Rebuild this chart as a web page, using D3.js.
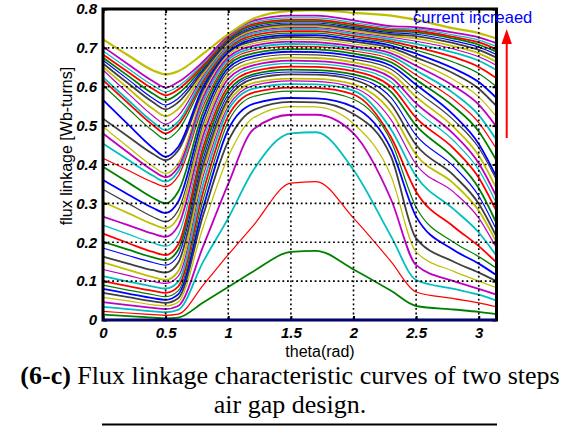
<!DOCTYPE html>
<html><head><meta charset="utf-8">
<script src="https://cdn.jsdelivr.net/npm/d3@7/dist/d3.min.js"></script>
<style>body{margin:0;background:#fff}svg{display:block}</style>
</head><body>
<svg id="c" width="578" height="426"></svg>
<script>
// rotor position samples (rad)
const theta = [0, 0.2, 0.4, 0.5, 0.6, 0.8, 1.0, 1.2, 1.5, 1.7, 2.0, 2.3, 2.5, 2.8, 3.0, 3.1416];
// flux linkage [Wb-turns], one array per current step (low -> high)
const c00 = [0,0,0,0,0,0,0,0,0,0,0,0,0,0,0,0];
const c01 = [.014,.010,.006,.004,.006,.045,.085,.125,.175,.178,.130,.075,.036,.027,.021,.015];
const c02 = [.022,.018,.014,.012,.015,.090,.168,.243,.352,.356,.262,.150,.072,.055,.044,.034];
const c03 = [.034,.028,.022,.020,.026,.150,.262,.385,.480,.483,.386,.215,.103,.080,.065,.050];
const c04 = [.046,.038,.031,.028,.036,.190,.350,.490,.528,.528,.480,.310,.141,.100,.080,.065];
const c05 = [.058,.049,.039,.036,.046,.240,.420,.520,.549,.548,.505,.370,.175,.125,.100,.083];
const c06 = [.070,.059,.048,.044,.056,.270,.460,.540,.561,.560,.530,.420,.210,.150,.122,.100];
const c07 = [.080,.068,.056,.052,.066,.290,.490,.556,.571,.570,.548,.440,.266,.180,.145,.115];
const c08 = [.090,.077,.065,.060,.075,.310,.510,.575,.589,.588,.568,.460,.290,.200,.163,.133];
const c09 = [.100,.087,.075,.070,.086,.330,.525,.585,.598,.597,.580,.470,.330,.240,.190,.148];
const c10 = [.113,.099,.086,.081,.098,.350,.540,.595,.607,.606,.590,.490,.370,.285,.225,.165];
const c11 = [.130,.115,.099,.094,.112,.370,.550,.603,.615,.614,.598,.515,.400,.329,.262,.185];
const c12 = [.148,.129,.110,.103,.125,.385,.560,.610,.621,.620,.606,.535,.425,.351,.281,.200];
const c13 = [.163,.145,.128,.122,.147,.400,.570,.620,.632,.631,.618,.555,.450,.372,.299,.214];
const c14 = [.185,.166,.148,.141,.166,.415,.580,.627,.638,.637,.625,.572,.475,.395,.319,.232];
const c15 = [.201,.181,.161,.154,.180,.430,.590,.632,.644,.643,.632,.587,.500,.417,.339,.249];
const c16 = [.222,.198,.175,.167,.194,.445,.600,.640,.652,.651,.640,.600,.520,.441,.366,.280];
const c17 = [.244,.221,.198,.190,.218,.460,.610,.648,.660,.659,.648,.612,.540,.461,.386,.300];
const c18 = [.266,.244,.222,.214,.242,.475,.620,.655,.667,.666,.655,.623,.557,.478,.403,.317];
const c19 = [.304,.275,.246,.236,.264,.490,.630,.663,.675,.674,.663,.634,.574,.496,.423,.338];
const c20 = [.336,.300,.265,.253,.282,.505,.640,.672,.683,.682,.671,.645,.590,.514,.443,.360];
const c21 = [.360,.323,.288,.275,.304,.520,.648,.679,.690,.689,.678,.654,.605,.527,.453,.368];
const c22 = [.394,.354,.314,.300,.330,.535,.656,.686,.697,.696,.685,.663,.618,.549,.485,.410];
const c23 = [.416,.385,.354,.343,.370,.550,.663,.693,.704,.703,.692,.671,.630,.567,.508,.440];
const c24 = [.454,.412,.371,.356,.382,.562,.670,.699,.710,.709,.698,.679,.642,.583,.527,.463];
const c25 = [.480,.431,.384,.367,.393,.573,.676,.705,.716,.715,.704,.686,.654,.602,.554,.497];
const c26 = [.497,.445,.395,.377,.403,.583,.682,.711,.722,.721,.710,.693,.665,.618,.574,.523];
const c27 = [.518,.472,.427,.411,.436,.592,.688,.717,.728,.727,.716,.700,.675,.634,.595,.550];
const c28 = [.566,.503,.442,.420,.445,.600,.690,.722,.733,.733,.721,.706,.685,.647,.612,.571];
const c29 = [.604,.544,.486,.465,.488,.608,.695,.727,.738,.738,.726,.712,.694,.663,.634,.600];
const c30 = [.617,.558,.501,.480,.502,.615,.699,.732,.743,.743,.731,.717,.702,.676,.651,.622];
const c31 = [.625,.566,.509,.488,.510,.622,.703,.737,.748,.748,.736,.722,.710,.688,.667,.643];
const c32 = [.643,.583,.525,.504,.525,.628,.707,.741,.752,.752,.740,.727,.717,.697,.677,.655];
const c33 = [.651,.596,.543,.524,.543,.634,.711,.745,.756,.756,.744,.731,.724,.704,.686,.664];
const c34 = [.660,.609,.560,.542,.560,.640,.715,.749,.760,.760,.748,.735,.730,.712,.695,.675];
const c35 = [.668,.619,.570,.553,.570,.645,.719,.753,.764,.764,.752,.739,.735,.718,.702,.683];
const c36 = [.675,.628,.582,.566,.582,.650,.722,.757,.768,.768,.756,.743,.740,.724,.708,.690];
const c37 = [.683,.638,.594,.578,.593,.655,.725,.761,.772,.772,.760,.747,.744,.728,.714,.697];
const c38 = [.692,.647,.603,.587,.601,.660,.728,.765,.777,.777,.765,.751,.748,.733,.720,.704];
const c39 = [.703,.658,.614,.598,.612,.665,.731,.770,.783,.783,.771,.756,.753,.739,.727,.712];
const c40 = [.722,.681,.642,.632,.640,.685,.735,.775,.795,.797,.790,.783,.772,.750,.738,.724];

const xTickValues = [0, 0.5, 1, 1.5, 2, 2.5, 3];
const xTickLabels = ["0", "0.5", "1", "1.5", "2", "2.5", "3"];
const yTickValues = [0, 0.1, 0.2, 0.3, 0.4, 0.5, 0.6, 0.7, 0.8];
const yTickLabels = ["0", "0.1", "0.2", "0.3", "0.4", "0.5", "0.6", "0.7", "0.8"];
const xLabel = "theta(rad)";
const yLabel = "flux linkage [Wb-turns]";
const noteText = "current increaed";
const captionBold = "(6-c)";
const captionLine1 = " Flux linkage characteristic curves of two steps";
const captionLine2 = "air gap design.";

const curves = [c00,c01,c02,c03,c04,c05,c06,c07,c08,c09,c10,c11,c12,c13,c14,c15,c16,c17,c18,c19,c20,
  c21,c22,c23,c24,c25,c26,c27,c28,c29,c30,c31,c32,c33,c34,c35,c36,c37,c38,c39,c40];

const colorCycle = ["#008000", "#ff0000", "#00bfbf", "#bf00bf", "#bfbf00", "#404040", "#0000ff"];

const svg = d3.select("#c");
const L = 103, R = 496.5, T = 9, B = 320;
const x = d3.scaleLinear().domain([0, 3.1416]).range([L, R]);
const y = d3.scaleLinear().domain([0, 0.8]).range([B, T]);

const line = d3.line().x((d, i) => x(theta[i])).y(d => y(d)).curve(d3.curveMonotoneX);

const tickFont = "Arial, 'Liberation Sans', sans-serif";
const serifFont = "'Times New Roman', 'Liberation Serif', serif";

// curves (zero-current curve is drawn later, on top of the frame)
const gCurves = svg.append("g");
curves.forEach((c, i) => {
  if (i === 0) return;
  gCurves.append("path")
    .attr("d", line(c))
    .attr("fill", "none")
    .attr("stroke", colorCycle[(i - 1) % 7])
    .attr("stroke-width", i === 40 ? 2.2 : (i % 3 === 2 ? 1.2 : 1.8))
    .attr("stroke-linejoin", "round");
});

// dotted grid
const gGrid = svg.append("g").attr("stroke", "#000").attr("stroke-width", 1.6).attr("stroke-dasharray", "1.8,2.8");
xTickValues.filter(v => v > 0).forEach(v => {
  gGrid.append("line").attr("x1", x(v)).attr("x2", x(v)).attr("y1", T).attr("y2", B);
});
yTickValues.filter(v => v > 0 && v < 0.8).forEach(v => {
  gGrid.append("line").attr("x1", L).attr("x2", R).attr("y1", y(v)).attr("y2", y(v));
});

// axes with inward ticks
const fmtX = (d) => xTickLabels[xTickValues.indexOf(d)];
const fmtY = (d) => yTickLabels[yTickValues.findIndex(v => Math.abs(v - d) < 1e-9)];
const axB = svg.append("g").attr("transform", `translate(0,${B})`)
  .call(d3.axisBottom(x).tickValues(xTickValues).tickFormat(fmtX).tickSize(-4).tickPadding(7));
const axL = svg.append("g").attr("transform", `translate(${L},0)`)
  .call(d3.axisLeft(y).tickValues(yTickValues).tickFormat(fmtY).tickSize(-4).tickPadding(6));
const axT = svg.append("g").attr("transform", `translate(0,${T})`)
  .call(d3.axisTop(x).tickValues(xTickValues).tickFormat("").tickSize(-4));
const axR = svg.append("g").attr("transform", `translate(${R},0)`)
  .call(d3.axisRight(y).tickValues(yTickValues).tickFormat("").tickSize(-4));
[axB, axL, axT, axR].forEach(a => {
  a.select(".domain").remove();
  a.selectAll(".tick line").attr("stroke", "#000").attr("stroke-width", 2);
  a.selectAll(".tick text").attr("fill", "#000")
    .style("font-family", tickFont).style("font-size", "15px")
    .style("font-weight", "bold").style("font-style", "italic");
});

// frame
svg.append("rect").attr("x", L).attr("y", T).attr("width", R - L).attr("height", B - T)
  .attr("fill", "none").attr("stroke", "#000").attr("stroke-width", 3);

// zero-current curve along the axis
svg.append("path").attr("d", line(c00)).attr("fill", "none")
  .attr("stroke", "#0000cc").attr("stroke-width", 1.6);

// axis labels
svg.append("text").attr("x", 320).attr("y", 357).attr("text-anchor", "middle")
  .style("font-family", tickFont).style("font-size", "16px").text(xLabel);
svg.append("text").attr("transform", "translate(72,146) rotate(-90)").attr("text-anchor", "middle")
  .style("font-family", tickFont).style("font-size", "16px").text(yLabel);

// annotation
svg.append("text").attr("x", 413).attr("y", 23)
  .style("font-family", tickFont).style("font-size", "16.5px").attr("fill", "#0000ff").text(noteText);
svg.append("line").attr("x1", 506.7).attr("x2", 506.7).attr("y1", 138).attr("y2", 40)
  .attr("stroke", "#ff0000").attr("stroke-width", 2);
svg.append("path").attr("d", "M506.7,29 L501.5,44 L511.9,44 Z").attr("fill", "#ff0000");

// caption
const cap = svg.append("text").attr("x", 290).attr("y", 384).attr("text-anchor", "middle")
  .style("font-family", serifFont).style("font-size", "26px").attr("fill", "#000");
cap.append("tspan").style("font-weight", "bold").text(captionBold);
cap.append("tspan").text(captionLine1);
svg.append("text").attr("x", 290).attr("y", 413).attr("text-anchor", "middle")
  .style("font-family", serifFont).style("font-size", "26px").attr("fill", "#000")
  .text(captionLine2);
svg.append("line").attr("x1", 102).attr("x2", 497).attr("y1", 424.5).attr("y2", 424.5)
  .attr("stroke", "#000").attr("stroke-width", 2);
</script>
</body></html>
